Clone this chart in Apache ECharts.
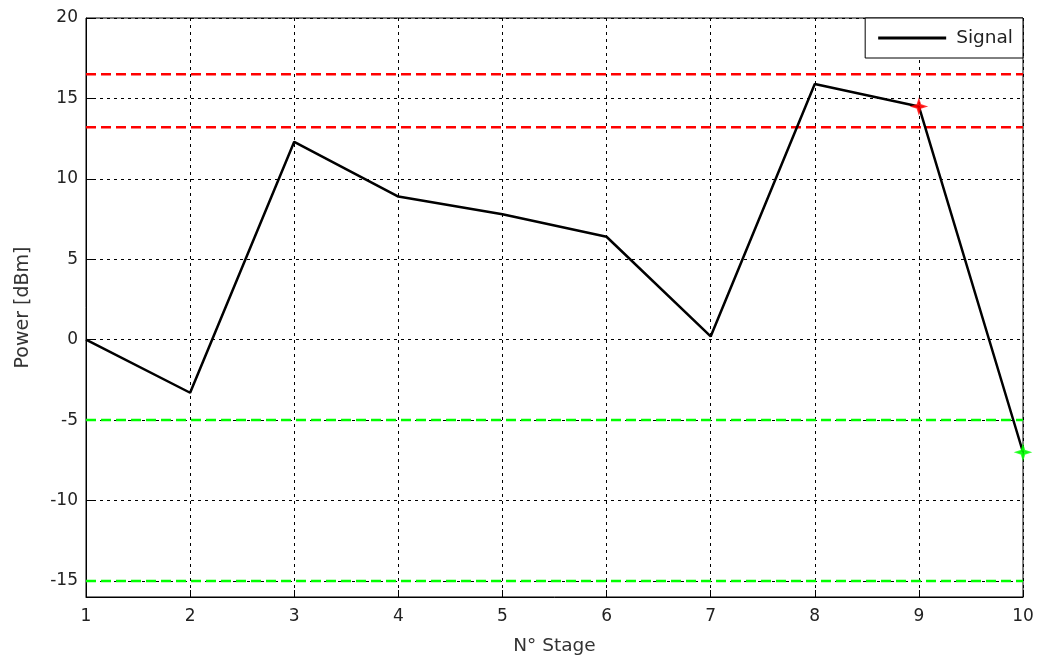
<!DOCTYPE html>
<html>
<head>
<meta charset="utf-8">
<script src="https://cdn.jsdelivr.net/npm/echarts@6/dist/echarts.min.js"></script>
<style>
html,body{margin:0;padding:0;background:#fff;}
#chart{width:1037px;height:660px;}
</style>
</head>
<body>
<div id="chart"></div>
<script>
// Stage numbers and measured power per stage
const stages = [1, 2, 3, 4, 5, 6, 7, 8, 9, 10];
const power = [0, -3.3, 12.3, 8.9, 7.8, 6.4, 0.2, 15.9, 14.5, -7.0];
// Upper (red) and lower (green) limit levels
const upperLimits = [16.5, 13.2];
const lowerLimits = [-5, -15];
// Stages flagged against the limits
const upperFlagStage = 9;
const lowerFlagStage = 10;
const yTicks = [-15, -10, -5, 0, 5, 10, 15, 20];

const font = 'DejaVu Sans, Liberation Sans, sans-serif';
const starPath = 'path://M50,0 L62,38 L100,50 L62,62 L50,100 L38,62 L0,50 L38,38 Z';

function limitSeries(value, color) {
  return {
    type: 'line',
    data: [[stages[0], value], [stages[stages.length - 1], value]],
    symbol: 'none',
    silent: true,
    lineStyle: { color: color, width: 2.5, type: [10, 5] },
    z: 3
  };
}

function flagSeries(stage, color) {
  return {
    type: 'scatter',
    data: [[stage, power[stages.indexOf(stage)]]],
    symbol: starPath,
    symbolSize: 12,
    itemStyle: { color: color, borderColor: color, borderWidth: 2 },
    z: 5
  };
}

const series = [];
upperLimits.forEach(v => series.push(limitSeries(v, '#ff0000')));
lowerLimits.forEach(v => series.push(limitSeries(v, '#00ff00')));
series.push({
  name: 'Signal',
  type: 'line',
  data: stages.map((s, i) => [s, power[i]]),
  symbol: 'none',
  lineStyle: { color: '#000', width: 2.5 },
  z: 4
});
series.push(flagSeries(upperFlagStage, '#ff0000'));
series.push(flagSeries(lowerFlagStage, '#00ff00'));

const chart = echarts.init(document.getElementById('chart'), null, { renderer: 'canvas' });
chart.setOption({
  animation: false,
  backgroundColor: '#fff',
  grid: {
    left: 86, right: 14, top: 18, bottom: 63,
    containLabel: false,
    outerBoundsMode: 'none',
    show: true, borderColor: '#000', borderWidth: 1, backgroundColor: '#fff', z: 0
  },
  legend: {
    data: [{ name: 'Signal', icon: 'rect' }],
    right: 14, top: 18,
    backgroundColor: '#fff',
    borderColor: '#000', borderWidth: 1, borderRadius: 0,
    padding: [9, 10, 9, 13],
    itemWidth: 68, itemHeight: 3,
    itemGap: 0,
    textStyle: { fontFamily: font, fontSize: 18.5, color: '#222', lineHeight: 22, padding: [0, 0, 0, 5] },
    itemStyle: { color: '#000' }
  },
  xAxis: {
    type: 'value',
    min: 1, max: 10, interval: 1,
    name: 'N° Stage',
    nameLocation: 'middle',
    nameGap: 40,
    nameTextStyle: { fontFamily: font, fontSize: 18.5, color: '#333' },
    axisLine: { onZero: false, lineStyle: { color: '#000' } },
    axisTick: { inside: true, length: 7, lineStyle: { color: '#000' } },
    axisLabel: { fontFamily: font, fontSize: 17, color: '#222', margin: 11 },
    splitLine: { show: true, lineStyle: { color: '#000', type: [3, 4], width: 1 } }
  },
  yAxis: {
    type: 'value',
    min: -16, max: 20,
    name: 'Power [dBm]',
    nameLocation: 'middle',
    nameGap: 53,
    nameTextStyle: { fontFamily: font, fontSize: 19, color: '#333' },
    axisLine: { show: true, onZero: false, lineStyle: { color: '#000' } },
    axisTick: { show: true, inside: true, length: 7, customValues: yTicks, lineStyle: { color: '#000' } },
    axisLabel: { fontFamily: font, fontSize: 17, color: '#222', margin: 8, customValues: yTicks },
    splitLine: { show: true, lineStyle: { color: '#000', type: [3, 4], width: 1 } }
  },
  series: series
});
</script>
</body>
</html>
